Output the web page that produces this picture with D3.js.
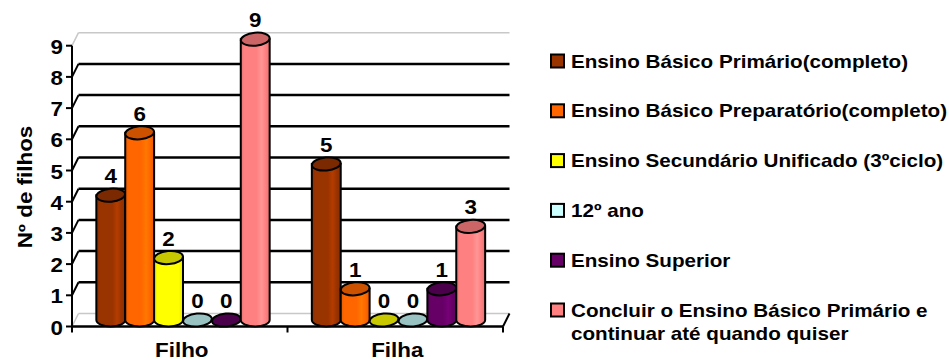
<!DOCTYPE html>
<meta charset="utf-8">
<script src="https://cdn.jsdelivr.net/npm/d3@7"></script>
<style>
  body { margin: 0; background: #fff; }
  text { font-family: Arial, "Liberation Sans", Arimo, Helvetica, sans-serif; font-weight: bold; fill: #000; }
</style>
<body>
<div id="draw"></div>
</body>
<script>

  var categories = ["Filho", "Filha"];
  var seriesNames = [
    "Ensino Básico Primário(completo)",
    "Ensino Básico Preparatório(completo)",
    "Ensino Secundário Unificado (3ºciclo)",
    "12º ano",
    "Ensino Superior",
    "Concluir o Ensino Básico Primário e|continuar até quando quiser"
  ];
  var filhoValues = [4, 6, 2, 0, 0, 9];
  var filhaValues = [5, 1, 0, 0, 1, 3];
  var yTicks = [0, 1, 2, 3, 4, 5, 6, 7, 8, 9];

  // face colour, top colour, legend colour
  var colors = ["#993300", "#FF6600", "#FFFF00", "#A8D4D4", "#660066", "#FF8080"];
  var topColors = ["#7A2900", "#CC5200", "#C8C800", "#99C3C3", "#4A004A", "#CC6666"];
  var legendColors = ["#993300", "#FF6600", "#FFFF00", "#CCFFFF", "#660066", "#FF8080"];

  var width = 949, height = 360;
  var depth = {x: 6.5, y: -13};   // oblique offset front -> back wall
  var sx = 1.12;                   // text in the picture is a bit wider than tall
  var sxLegend = 1.18;

  var svg = d3.select("#draw").append("svg")
    .attr("width", width).attr("height", height);

  var y = d3.scaleLinear().domain([0, 9]).range([326.5, 45.7]);
  var x0 = d3.scaleBand().domain(categories).range([72, 503]);
  var x1 = d3.scaleBand().domain(d3.range(6)).range([0, x0.bandwidth()]).paddingOuter(0.73);

  var data = categories.map(function(c, ci) {
    var vals = ci == 0 ? filhoValues : filhaValues;
    return vals.map(function(v, i) { return {cat: c, i: i, v: v}; });
  });

  // gradients for cylinder faces
  var defs = svg.append("defs");
  colors.forEach(function(c, i) {
    var g = defs.append("linearGradient").attr("id", "grad" + i).attr("x1", "0%").attr("x2", "100%");
    var base = d3.color(c), light = d3.color(c).brighter(0.45), dark = d3.color(c).darker(0.3);
    [[0, dark], [0.12, base], [0.55, base], [0.72, light], [0.86, base], [1, dark]].forEach(function(s) {
      g.append("stop").attr("offset", s[0]).attr("stop-color", s[1]);
    });
  });

  // walls, floor and gridlines
  var grid = svg.append("g");
  yTicks.forEach(function(t) {
    var yf = y(t), xl = 72;
    var edge = (t == 0 || t == 9);
    var col = edge ? "#c8c8c8" : "#000";
    var sw = edge ? 1.5 : 2.5;
    grid.append("line")
      .attr("x1", xl + depth.x).attr("y1", yf + depth.y)
      .attr("x2", 503 + depth.x).attr("y2", yf + depth.y)
      .style("stroke", col).style("stroke-width", sw);
    grid.append("line")
      .attr("x1", xl).attr("y1", yf)
      .attr("x2", xl + depth.x).attr("y2", yf + depth.y)
      .style("stroke", col).style("stroke-width", edge ? 1.5 : 2);
  });
  // right edge of floor
  grid.append("line")
    .attr("x1", 503).attr("y1", y(0)).attr("x2", 503 + depth.x).attr("y2", y(0) + depth.y)
    .style("stroke", "#000").style("stroke-width", 2);

  // axes
  var axes = svg.append("g");
  axes.append("line").attr("x1", 72).attr("y1", y(9)).attr("x2", 72).attr("y2", y(0))
    .style("stroke", "#000").style("stroke-width", 2);
  axes.append("line").attr("x1", 71).attr("y1", y(0)).attr("x2", 503).attr("y2", y(0))
    .style("stroke", "#000").style("stroke-width", 2.5);
  yTicks.forEach(function(t) {
    axes.append("line").attr("x1", 66).attr("y1", y(t)).attr("x2", 72).attr("y2", y(t))
      .style("stroke", "#000").style("stroke-width", 2);
    axes.append("text")
      .attr("transform", "translate(63," + (y(t) + 1) + ") scale(" + sx + ",1)")
      .attr("text-anchor", "end").attr("dominant-baseline", "central")
      .style("font-size", "20px").text(t);
  });
  [72, 287.5, 503].forEach(function(xx) {
    axes.append("line").attr("x1", xx).attr("y1", y(0)).attr("x2", xx).attr("y2", y(0) + 6)
      .style("stroke", "#000").style("stroke-width", 2);
  });
  categories.forEach(function(c) {
    axes.append("text")
      .attr("transform", "translate(" + (x0(c) + x0.bandwidth() / 2 + 2) + ",357) scale(" + sx + ",1)")
      .attr("text-anchor", "middle").style("font-size", "20px").text(c);
  });
  axes.append("text")
    .attr("transform", "translate(32,187) rotate(-90) scale(" + sx + ",1)")
    .attr("text-anchor", "middle").style("font-size", "20px").text("Nº de filhos");

  // cylinders
  var rx = x1.bandwidth() / 2, ry = 6.5;
  var base = y(0) + depth.y / 2;
  var bars = svg.append("g");
  data.forEach(function(group) {
    group.forEach(function(d) {
      var cx = x0(d.cat) + x1(d.i) + rx + depth.x / 2;
      var top = y(d.v) + depth.y / 2;
      var g = bars.append("g");
      if (d.v > 0) {
        g.append("path")
          .attr("d", "M" + (cx - rx) + "," + top + " L" + (cx - rx) + "," + base +
            " A" + rx + "," + ry + " 0 0 0 " + (cx + rx) + "," + base +
            " L" + (cx + rx) + "," + top + " Z")
          .style("fill", "url(#grad" + d.i + ")")
          .style("stroke", "#000").style("stroke-width", 2);
      }
      g.append("ellipse")
        .attr("cx", cx).attr("cy", top).attr("rx", rx).attr("ry", ry)
        .attr("transform", "rotate(-5," + cx + "," + top + ")")
        .style("fill", topColors[d.i])
        .style("stroke", "#000").style("stroke-width", 2);
      g.append("text")
        .attr("transform", "translate(" + cx + "," + (top - 12) + ") scale(" + sx + ",1)")
        .attr("text-anchor", "middle").style("font-size", "20px").text(d.v);
    });
  });

  // legend
  var legend = svg.append("g");
  seriesNames.forEach(function(name, i) {
    var ly = 61 + i * 49.8;
    legend.append("rect")
      .attr("x", 551).attr("y", ly - 6.5).attr("width", 13).attr("height", 13)
      .style("fill", legendColors[i]).style("stroke", "#000").style("stroke-width", 2);
    name.split("|").forEach(function(line, k) {
      legend.append("text")
        .attr("transform", "translate(571," + (ly + 6.5 + k * 23.5) + ") scale(" + sxLegend + ",1)")
        .style("font-size", "17.5px").text(line);
    });
  });

</script>
